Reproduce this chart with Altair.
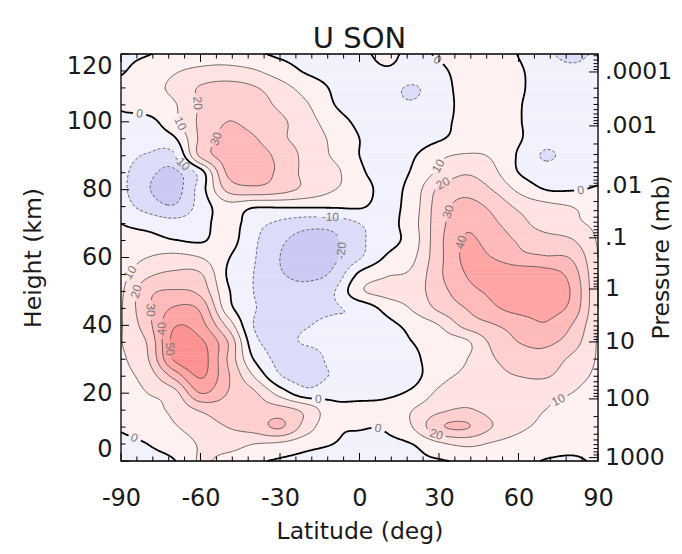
import math
from collections import defaultdict

import numpy as np
import pandas as pd
import altair as alt

# ------------------------------------------------------------------
# Zonal-mean zonal wind U (m/s), SON on a
# 10 deg latitude x 5 km height grid (rows = height, cols = latitude)
# ------------------------------------------------------------------
LATITUDES = list(range(-90, 91, 10))
HEIGHTS_KM = list(range(0, 121, 5))

U_Z000 = [-3, -2, -0.5, 11, 6, 2, -1.5, -3, -4, -4, -3, -2, -1, 2, 5, 3, -0.5, -1, 1]
U_Z005 = [-2, 0, 4, 11, 14, 10, 8, 3, 0, -2, -2, 0, 8, 12, 9, 6, 4, 2, 2]
U_Z010 = [1, 4, 9, 15, 20, 24, 31, 15, 2, 0.5, 1, 10, 28, 31, 20, 12, 8, 5, 4]
U_Z015 = [5, 7, 12, 21, 25, 24, 24, 17, 3, 3, 4, 10, 18, 21, 17, 13, 10, 8, 5]
U_Z020 = [6, 10, 16, 40, 30, 22, 6, -6, -3, -3, -2, 2, 12, 16, 15, 13, 12, 10, 6]
U_Z025 = [7, 14, 33, 51, 32, 10, -9, -14, -9, -5, -4, -3, 7, 12, 17, 20, 21, 14, 8]
U_Z030 = [8, 19, 51, 55, 30, 0, -13, -16, -7, -6, -5, -2, 5, 9.5, 19, 24, 26, 18, 9]
U_Z035 = [9.5, 21, 53, 52, 31, -6, -12, -9, -7, -7, -4, 0, 5, 8, 22, 30, 32, 25, 9]
U_Z040 = [9, 26, 49, 44, 18, -10, -13, -10.5, -8, -9, -3, 3, 10, 23, 29, 34, 39, 30, 10]
U_Z045 = [9, 28, 41, 38, 5, -9, -14, -13, -11, -7, 3, 11, 22, 30, 38, 43, 43, 37, 10]
U_Z050 = [8, 27, 31, 27, 2, -10, -15, -17, -11, 8, 13, 15, 26, 36, 42, 46, 47, 39, 10]
U_Z055 = [6, 18, 22, 21, -0.5, -10, -19, -22, -18, 2, 9, 12, 28, 40, 46, 47, 45, 36, 10]
U_Z060 = [4, 10, 13, 10, 1, -9, -20, -25, -22, -11, 1, 8, 27, 42, 40, 33, 31, 29, 10]
U_Z065 = [2, 3, 0.5, -1, 4, -8, -18, -24, -22, -12, -4, 5, 27, 41, 36, 29, 25, 21, 9]
U_Z070 = [0, -3, -6, -4, 5, -6, -12, -16, -16, -10, -4, 6, 26, 38, 32, 24, 15, 12, 8]
U_Z075 = [-5, -14, -19, -6, 6, 1, 1, 1, 1, 1, -3, 5, 25, 33, 28, 18, 13, 10, 6]
U_Z080 = [-7, -19, -24, -5, 22, 27, 24, 17, 10.5, 5, -3, 4, 22, 27, 20, 8, 0, -0.5, 1]
U_Z085 = [-7, -17, -22, -5, 31, 34, 28, 17, 13, 2, -4, 1, 12, 19, 13, 0, -5, -4, -2]
U_Z090 = [-6, -11, -12, 22, 34, 35, 27, 17, 9, 0, -4, -1, 8, 11, 9, -1, -11, -6, -3]
U_Z095 = [-4, -5, -1.5, 22, 33, 31, 22, 16, 8, 0, -4, -5, -1, 4, 6, 1, -6, -5, -3]
U_Z100 = [-2, -3, 7, 22, 30, 27, 22, 14, 5, -2, -5, -6, -3, 3, 5, 0.5, -3, -3, -2]
U_Z105 = [1, 5, 9, 21, 27, 25, 18, 11, 0.5, -5, -7, -9, -4, 2.5, 4, 0.5, -3, -3, -3]
U_Z110 = [3, 7, 12, 21, 24, 21, 14, 6, -1, -4, -6, -11, -4, 3, 4, 1, -3, -5, -5]
U_Z115 = [-1, 4, 9, 12, 13, 11, 5, -1, -3, -3, -1, -3, -1.5, 3, 4, 1, -4, -7, -5]
U_Z120 = [-2, -0.5, 3, 5, 5, 2, -2, -3, -3, -2, 2, -2, 1, 4, 3, -0.3, -7, -14, -7]

U_ROWS = [U_Z000, U_Z005, U_Z010, U_Z015, U_Z020, U_Z025, U_Z030, U_Z035,
          U_Z040, U_Z045, U_Z050, U_Z055, U_Z060, U_Z065, U_Z070, U_Z075,
          U_Z080, U_Z085, U_Z090, U_Z095, U_Z100, U_Z105, U_Z110, U_Z115,
          U_Z120]

CONTOUR_LEVELS = [-20, -10, 0, 10, 20, 30, 40, 50]
FILL_COLORS = ["#c9c9f5", "#dcdcfa", "#f1f1fe", "#fff1f1", "#ffe2e2",
               "#ffcfcf", "#ffb9b9", "#ffa4a4", "#ff9090"]

LAT_TICKS = [-90, -60, -30, 0, 30, 60, 90]
LAT_MINOR = list(range(-90, 91, 6))
HEIGHT_TICKS = [0, 20, 40, 60, 80, 100, 120]
HEIGHT_MINOR = list(range(0, 121, 5))

PRESSURE_LABELS = [".0001", ".001", ".01", ".1", "1", "10", "100", "1000"]
PRESSURE_DECADES = [1e-4, 1e-3, 1e-2, 1e-1, 1.0, 10.0, 100.0, 1000.0]
PRESSURE_HEIGHTS = [114.7, 98.8, 81.1, 65.8, 50.7, 35.1, 18.3, 1.0]

# contour label anchor points (lat, height, level)
LABEL_LATS = [-82.8, -69.0, -61.4, -55.3, -68.5, -11.0, -5.5, 27.7, 30.4, 31.5,
              34.9, 38.7, 83.6, -84.7, -81.7, -79.0, -76.0, -73.4, -85.5,
              -15.7, 7.0, 28.5, 75.7]
LABEL_HEIGHTS = [103, 99, 105.5, 95.3, 86.4, 69, 62, 116.8, 86.7, 82,
                 73, 64.6, 80, 55, 49.5, 44.5, 39, 33, 6,
                 16.5, 9.7, 7, 17]
LABEL_LEVELS = [0, 10, 20, 30, -10, -10, -20, 0, 10, 20,
                30, 40, 0, 10, 20, 30, 40, 50, 0,
                0, 0, 20, 10]

W, H = 477, 407
FONT = "DejaVu Sans"
LABEL_FONT = "Liberation Sans"
TXT = "#1a1a1a"
TICK_FS = 24
TITLE_FS = 23.5


# ------------------------------------------------------------------
# smooth rendering of the read grid (Catmull-Rom between grid values)
# ------------------------------------------------------------------
def cr_weights(n, t):
    Wm = np.zeros((len(t), n))
    for k, tt in enumerate(t):
        i = int(math.floor(tt))
        i = min(max(i, 0), n - 2)
        u = tt - i
        w = [0.5 * (-u + 2 * u * u - u ** 3),
             0.5 * (2 - 5 * u * u + 3 * u ** 3),
             0.5 * (u + 4 * u * u - 3 * u ** 3),
             0.5 * (-u * u + u ** 3)]
        for off, ww in zip((-1, 0, 1, 2), w):
            j = i + off
            if j < 0:
                Wm[k, 0] += 2 * ww
                Wm[k, 1] -= ww
            elif j > n - 1:
                Wm[k, n - 1] += 2 * ww
                Wm[k, n - 2] -= ww
            else:
                Wm[k, j] += ww
    return Wm


G = np.array(U_ROWS, dtype=float)
nz, nl = G.shape
dlat = LATITUDES[1] - LATITUDES[0]
dz = HEIGHTS_KM[1] - HEIGHTS_KM[0]


def field(lat_arr, z_arr):
    Wl = cr_weights(nl, (np.asarray(lat_arr) - LATITUDES[0]) / dlat)
    Wz = cr_weights(nz, (np.asarray(z_arr) - HEIGHTS_KM[0]) / dz)
    return Wz @ G @ Wl.T


# ---- filled bands as run-length rects ----
STEP = 0.5
lat_c = np.arange(-90 + STEP / 2, 90, STEP)
z_c = np.arange(STEP / 2, 120, STEP)
Fc = field(lat_c, z_c)
bins = np.digitize(Fc, CONTOUR_LEVELS)
rects = []
for i in range(len(z_c)):
    row = bins[i]
    j0 = 0
    for j in range(1, len(lat_c) + 1):
        if j == len(lat_c) or row[j] != row[j0]:
            rects.append({
                "lat0": float(lat_c[j0] - STEP / 2),
                "lat1": float(lat_c[j - 1] + STEP / 2),
                "z0": float(z_c[i] - STEP / 2),
                "z1": float(z_c[i] + STEP / 2),
                "u": float(Fc[i, j0:j].mean()),
            })
            j0 = j
rect_df = pd.DataFrame(rects)

# ---- contour lines (marching squares + chaining) ----
lat_n = np.arange(-90, 90.0001, STEP)
z_n = np.arange(0, 120.0001, STEP)
F = field(lat_n, z_n)


def contour_lines(level):
    lv = level + 1e-6
    A = F > lv

    def pt(e):
        kind, i, j = e
        if kind == "h":
            f0, f1 = F[i, j], F[i, j + 1]
            t = (lv - f0) / (f1 - f0)
            return (lat_n[j] + t * (lat_n[j + 1] - lat_n[j]), z_n[i])
        f0, f1 = F[i, j], F[i + 1, j]
        t = (lv - f0) / (f1 - f0)
        return (lat_n[j], z_n[i] + t * (z_n[i + 1] - z_n[i]))

    code = (A[:-1, :-1] * 1 + A[:-1, 1:] * 2 + A[1:, 1:] * 4 + A[1:, :-1] * 8)
    segs = []
    for i, j in np.argwhere((code != 0) & (code != 15)):
        i = int(i); j = int(j)
        a, b, c, d = A[i, j], A[i, j + 1], A[i + 1, j + 1], A[i + 1, j]
        eB, eR, eT, eL = ("h", i, j), ("v", i, j + 1), ("h", i + 1, j), ("v", i, j)
        cr = []
        if a != b: cr.append(eB)
        if b != c: cr.append(eR)
        if d != c: cr.append(eT)
        if a != d: cr.append(eL)
        if len(cr) == 2:
            segs.append((cr[0], cr[1]))
        elif len(cr) == 4:
            cen = (F[i, j] + F[i, j + 1] + F[i + 1, j + 1] + F[i + 1, j]) / 4 > lv
            if a:
                segs += [(eB, eR), (eT, eL)] if cen else [(eB, eL), (eR, eT)]
            else:
                segs += [(eB, eL), (eR, eT)] if cen else [(eB, eR), (eT, eL)]
    adj = defaultdict(list)
    for k, (e1, e2) in enumerate(segs):
        adj[e1].append(k)
        adj[e2].append(k)
    used = [False] * len(segs)
    out = []
    for k in range(len(segs)):
        if used[k]:
            continue
        used[k] = True
        chain = [segs[k][0], segs[k][1]]
        for forward in (True, False):
            while True:
                e = chain[-1] if forward else chain[0]
                nxt = next((m for m in adj[e] if not used[m]), None)
                if nxt is None:
                    break
                used[nxt] = True
                e1, e2 = segs[nxt]
                ne = e2 if e1 == e else e1
                if forward:
                    chain.append(ne)
                else:
                    chain.insert(0, ne)
        out.append([pt(e) for e in chain])
    return out


def to_px(lat, z):
    return ((lat + 90) / 180 * W, (120 - z) / 120 * H)


lines_by_level = {lv: contour_lines(lv) for lv in CONTOUR_LEVELS}

# ---- contour labels: snap to contour, rotate along it, cut a gap ----
LABEL_SIZE = 12
label_rows = []
gaps = defaultdict(list)
for la, zz, lv in zip(LABEL_LATS, LABEL_HEIGHTS, LABEL_LEVELS):
    tx, ty = to_px(la, zz)
    best = None
    for li, line in enumerate(lines_by_level[lv]):
        for pi, (pl, pz) in enumerate(line):
            px, py = to_px(pl, pz)
            dd = (px - tx) ** 2 + (py - ty) ** 2
            if best is None or dd < best[0]:
                best = (dd, li, pi)
    if best is None:
        continue
    _, li, pi = best
    line = lines_by_level[lv][li]
    p0 = to_px(*line[max(pi - 4, 0)])
    p1 = to_px(*line[min(pi + 4, len(line) - 1)])
    ang = math.degrees(math.atan2(p1[1] - p0[1], p1[0] - p0[0]))
    if ang > 90:
        ang -= 180
    if ang <= -90:
        ang += 180
    cl, cz = line[pi]
    text = str(lv)
    label_rows.append({"lat": cl, "z": cz, "txt": text, "ang": ang % 360})
    cx, cy = to_px(cl, cz)
    gaps[lv].append((cx, cy, 0.5 * len(text) * 0.56 * LABEL_SIZE + 2.5))
label_df = pd.DataFrame(label_rows)

line_rows = {"zero": [], "pos": [], "neg": []}
lid = 0
for lv, lines in lines_by_level.items():
    grp = "zero" if lv == 0 else ("pos" if lv > 0 else "neg")
    for line in lines:
        piece = []
        for (pl, pz) in line:
            px, py = to_px(pl, pz)
            cut = any((px - gx) ** 2 + (py - gy) ** 2 < r * r for gx, gy, r in gaps[lv])
            if cut:
                if len(piece) > 1:
                    line_rows[grp].extend(
                        {"lat": a, "z": b, "lid": lid, "k": n} for n, (a, b) in enumerate(piece))
                    lid += 1
                piece = []
            else:
                piece.append((float(pl), float(pz)))
        if len(piece) > 1:
            line_rows[grp].extend(
                {"lat": a, "z": b, "lid": lid, "k": n} for n, (a, b) in enumerate(piece))
            lid += 1

# ---- pressure axis ticks (log minor ticks between decade heights) ----
p_major = pd.DataFrame({"h": PRESSURE_HEIGHTS, "txt": PRESSURE_LABELS})
lp = np.log10(PRESSURE_DECADES)
minor_h = []
for k in range(len(PRESSURE_DECADES) - 1):
    for m in range(2, 10):
        lm = lp[k] + math.log10(m)
        minor_h.append(PRESSURE_HEIGHTS[k] +
                       (PRESSURE_HEIGHTS[k + 1] - PRESSURE_HEIGHTS[k]) * (lm - lp[k]))
span = PRESSURE_HEIGHTS[0] - PRESSURE_HEIGHTS[1]
for m in range(2, 10):
    h = PRESSURE_HEIGHTS[0] + span * (1 - math.log10(m))
    if h <= 120:
        minor_h.append(h)
p_minor = pd.DataFrame({"h": minor_h})

# ------------------------------------------------------------------
# chart
# ------------------------------------------------------------------
XS = alt.Scale(domain=[-90, 90], nice=False, zero=False)
YS = alt.Scale(domain=[0, 120], nice=False, zero=False)
CS = alt.Scale(type="threshold", domain=CONTOUR_LEVELS, range=FILL_COLORS)

AX = alt.Axis(
    values=LAT_TICKS, labelExpr="datum.value + ''", ticks=False, domain=False,
    grid=False, labelFont=FONT, labelFontSize=TICK_FS, labelColor=TXT, labelPadding=25,
    labelFlush=False,
    title="Latitude (deg)", titleFont=FONT, titleFontSize=TITLE_FS, titleFontWeight="normal",
    titleColor=TXT, titleY=70, titleBaseline="middle")
AY = alt.Axis(
    values=HEIGHT_TICKS, labelExpr="datum.value + ''", ticks=False, domain=False,
    grid=False, labelFont=FONT, labelFontSize=TICK_FS, labelColor=TXT, labelPadding=9,
    labelFlush=True, title="Height (km)", titleFont=FONT, titleFontSize=TITLE_FS,
    titleFontWeight="normal", titleColor=TXT, titleAngle=270, titleX=-88,
    titleY=H / 2, titleBaseline="middle", titleAlign="center")


def X(f):
    return alt.X(f, scale=XS, axis=AX)


def Y(f):
    return alt.Y(f, scale=YS, axis=AY)


fill = alt.Chart(rect_df).mark_rect(strokeWidth=0.6).encode(
    x=X("lat0:Q"), x2="lat1:Q",
    y=Y("z0:Q"), y2="z1:Q",
    color=alt.Color("u:Q", scale=CS, legend=None),
    stroke=alt.Stroke("u:Q", scale=CS, legend=None),
)


def line_layer(rows, **kw):
    return alt.Chart(pd.DataFrame(rows)).mark_line(**kw).encode(
        x=X("lat:Q"), y=Y("z:Q"), detail="lid:N", order="k:Q")


neg_lines = line_layer(line_rows["neg"], color="#555555", strokeWidth=0.9, strokeDash=[3, 2])
pos_lines = line_layer(line_rows["pos"], color="#444444", strokeWidth=0.8)
zero_lines = line_layer(line_rows["zero"], color="#000000", strokeWidth=1.8)

labels = alt.Chart(label_df).mark_text(
    font=LABEL_FONT, fontSize=LABEL_SIZE, color="#7a7a7a", baseline="middle", align="center"
).encode(
    x=X("lat:Q"), y=Y("z:Q"), text="txt:N",
    angle=alt.Angle("ang:Q", scale=None),
)

x_major = pd.DataFrame({"lat": LAT_TICKS})
x_minor = pd.DataFrame({"lat": [v for v in LAT_MINOR if v not in LAT_TICKS]})
y_major = pd.DataFrame({"z": HEIGHT_TICKS})
y_minor = pd.DataFrame({"z": [v for v in HEIGHT_MINOR if v not in HEIGHT_TICKS]})


def xticks(df, length):
    base = alt.Chart(df).mark_rule(color="black", strokeWidth=1)
    return (base.encode(x=X("lat:Q"), y=alt.value(H), y2=alt.value(H - length)) +
            base.encode(x=X("lat:Q"), y=alt.value(0), y2=alt.value(length)))


def yticks(df, field_name, length, side):
    base = alt.Chart(df).mark_rule(color="black", strokeWidth=1)
    if side == "left":
        return base.encode(y=Y(f"{field_name}:Q"), x=alt.value(0), x2=alt.value(length))
    return base.encode(y=Y(f"{field_name}:Q"), x=alt.value(W), x2=alt.value(W - length))


ticks = alt.layer(
    xticks(x_major, 8), xticks(x_minor, 4.5),
    yticks(y_major, "z", 8, "left"), yticks(y_minor, "z", 4.5, "left"),
    yticks(p_major, "h", 9, "right"), yticks(p_minor, "h", 4.5, "right"),
)

p_text = alt.Chart(p_major).mark_text(
    font=FONT, fontSize=23.5, color=TXT, align="left", baseline="middle"
).encode(y=Y("h:Q"), x=alt.value(W + 7), text="txt:N")

p_title = alt.Chart(pd.DataFrame({"t": ["Pressure (mb)"]})).mark_text(
    font=FONT, fontSize=TITLE_FS, color=TXT, angle=270, align="center", baseline="middle"
).encode(x=alt.value(W + 64), y=alt.value(H / 2), text="t:N")

frame = alt.Chart(pd.DataFrame({"f": [0]})).mark_rect(
    fillOpacity=0, stroke="black", strokeWidth=1.3
).encode(x=alt.value(0), x2=alt.value(W), y=alt.value(0), y2=alt.value(H))

chart = alt.layer(
    fill, neg_lines, pos_lines, zero_lines, labels, ticks, frame, p_text, p_title
).properties(
    width=W, height=H,
    title=alt.TitleParams("U SON", font=FONT, fontSize=29, fontWeight="normal",
                          color=TXT, anchor="middle", offset=-4),
    padding={"left": 113, "top": 46, "right": 76, "bottom": 85},
    autosize=alt.AutoSizeParams(type="none"),
).configure_view(stroke=None).configure(background="white")

chart.save("out.html", embed_options={"renderer": "svg", "actions": False})
